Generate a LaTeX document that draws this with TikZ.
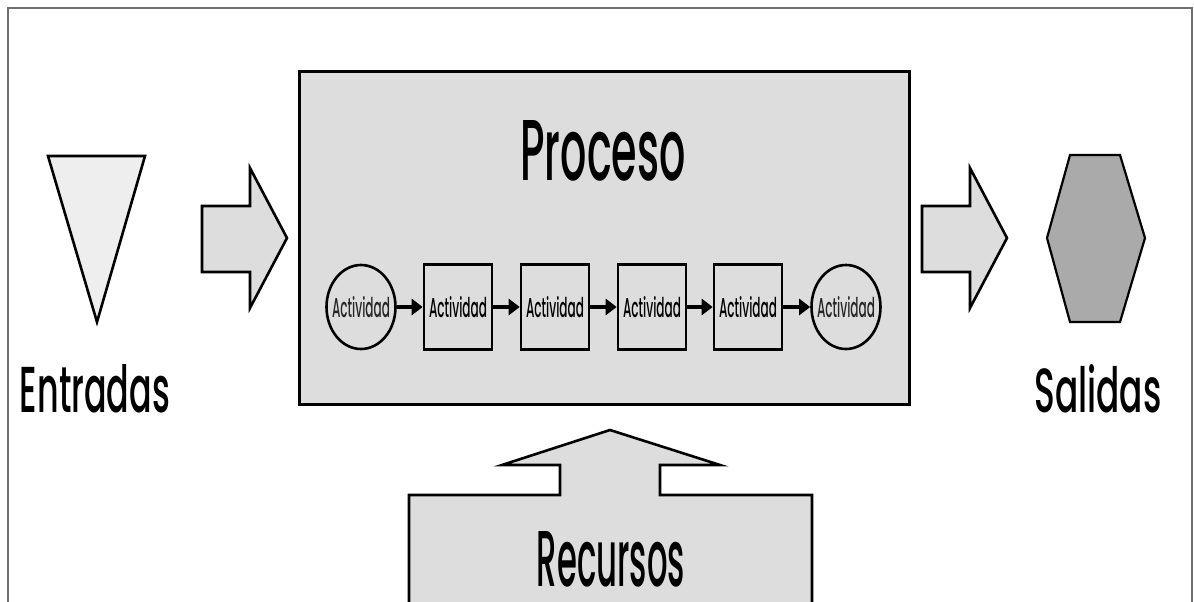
\documentclass[tikz,border=0pt]{standalone}
\usepackage{fontspec}
\usepackage{graphicx}
% medium-weight geometric lettering, with a fallback if the face is absent
\IfFontExistsTF{Poppins Medium}
  {\newfontfamily\geo{Poppins Medium}}
  {\newfontfamily\geo{Poppins}[FakeBold=1.5]}
\usetikzlibrary{shapes.geometric,arrows.meta}

\definecolor{panel}{HTML}{DDDDDD}
\definecolor{pale}{HTML}{EEEEEE}
\definecolor{hexfill}{HTML}{AAAAAA}
\definecolor{framegray}{HTML}{707070}

% condensed lettering: text stretched to a given width and height
\newcommand{\fitlabel}[3]{\resizebox{#1pt}{#2pt}{\geo #3}}
\newcommand{\actlabel}{\resizebox{58pt}{21pt}{\geo Actividad}}

\begin{document}
\begin{tikzpicture}[x=1pt,y=-1pt,
  shapeline/.style={draw=black,line width=2.6pt,line join=miter},
  actbox/.style={shapeline,fill=panel,rectangle,minimum width=68pt,minimum height=85pt,inner sep=0pt},
  actround/.style={shapeline,fill=panel,ellipse,minimum width=69pt,minimum height=84pt,inner sep=0pt},
  acttext/.style={inner sep=0pt,text=black!85},
  flow/.style={draw=black,line width=4.5pt,-{Triangle[length=11pt,width=16pt]}},
  title/.style={inner sep=0pt,text=black}]

\useasboundingbox (0,0) rectangle (1194,602);
\fill[white] (0,0) rectangle (1194,602);

% thin page frame, open at the bottom
\draw[framegray,line width=1.3pt] (8,612) -- (8,8) -- (1192,8) -- (1192,612);

% inputs: inverted triangle
\draw[shapeline,fill=pale] (48,156) -- (145,156) -- (97,322) -- cycle;
\node[title] (entradas) at (95,389) {\fitlabel{150}{48}{Entradas}};

% block arrow into the process
\draw[shapeline,fill=panel] (202,206) -- (250,206) -- (250,168) -- (287,238)
  -- (250,308) -- (250,272) -- (202,272) -- cycle;

% process box
\node[shapeline,line width=3pt,fill=panel,rectangle,minimum width=610pt,minimum height=332pt,inner sep=0pt]
  (proceso) at (604,238) {};
\node[title] (procesotitle) at (603,151) {\fitlabel{165}{60}{Proceso}};

% chain of activities
\node[actround,label={[acttext]center:\actlabel}] (a1) at (361,307) {};
\node[actbox] (a2) at (458,307) {\actlabel};
\node[actbox] (a3) at (555,307) {\actlabel};
\node[actbox] (a4) at (652,307) {\actlabel};
\node[actbox] (a5) at (748,307) {\actlabel};
\node[actround,label={[acttext]center:\actlabel}] (a6) at (846,307) {};
\foreach \u/\v in {a1/a2,a2/a3,a3/a4,a4/a5,a5/a6}
  \draw[flow] (\u) -- (\v);

% block arrow out of the process
\draw[shapeline,fill=panel] (922,206) -- (970,206) -- (970,168) -- (1007,238)
  -- (970,308) -- (970,272) -- (922,272) -- cycle;

% outputs: hexagon
\draw[shapeline,line width=2.2pt,fill=hexfill] (1070,155) -- (1120,155) -- (1145,238)
  -- (1120,322) -- (1070,322) -- (1047,238) -- cycle;
\node[title] (salidas) at (1098,389) {\fitlabel{127}{48}{Salidas}};

% resources feeding the process from below
\draw[shapeline,fill=panel] (409,615) -- (409,495) -- (560,495) -- (560,465)
  -- (502,465) -- (610,430) -- (720,465) -- (660,465) -- (660,495)
  -- (812,495) -- (812,615);
\node[title] (recursos) at (611,559) {\fitlabel{148}{55}{Recursos}};

\end{tikzpicture}
\end{document}
